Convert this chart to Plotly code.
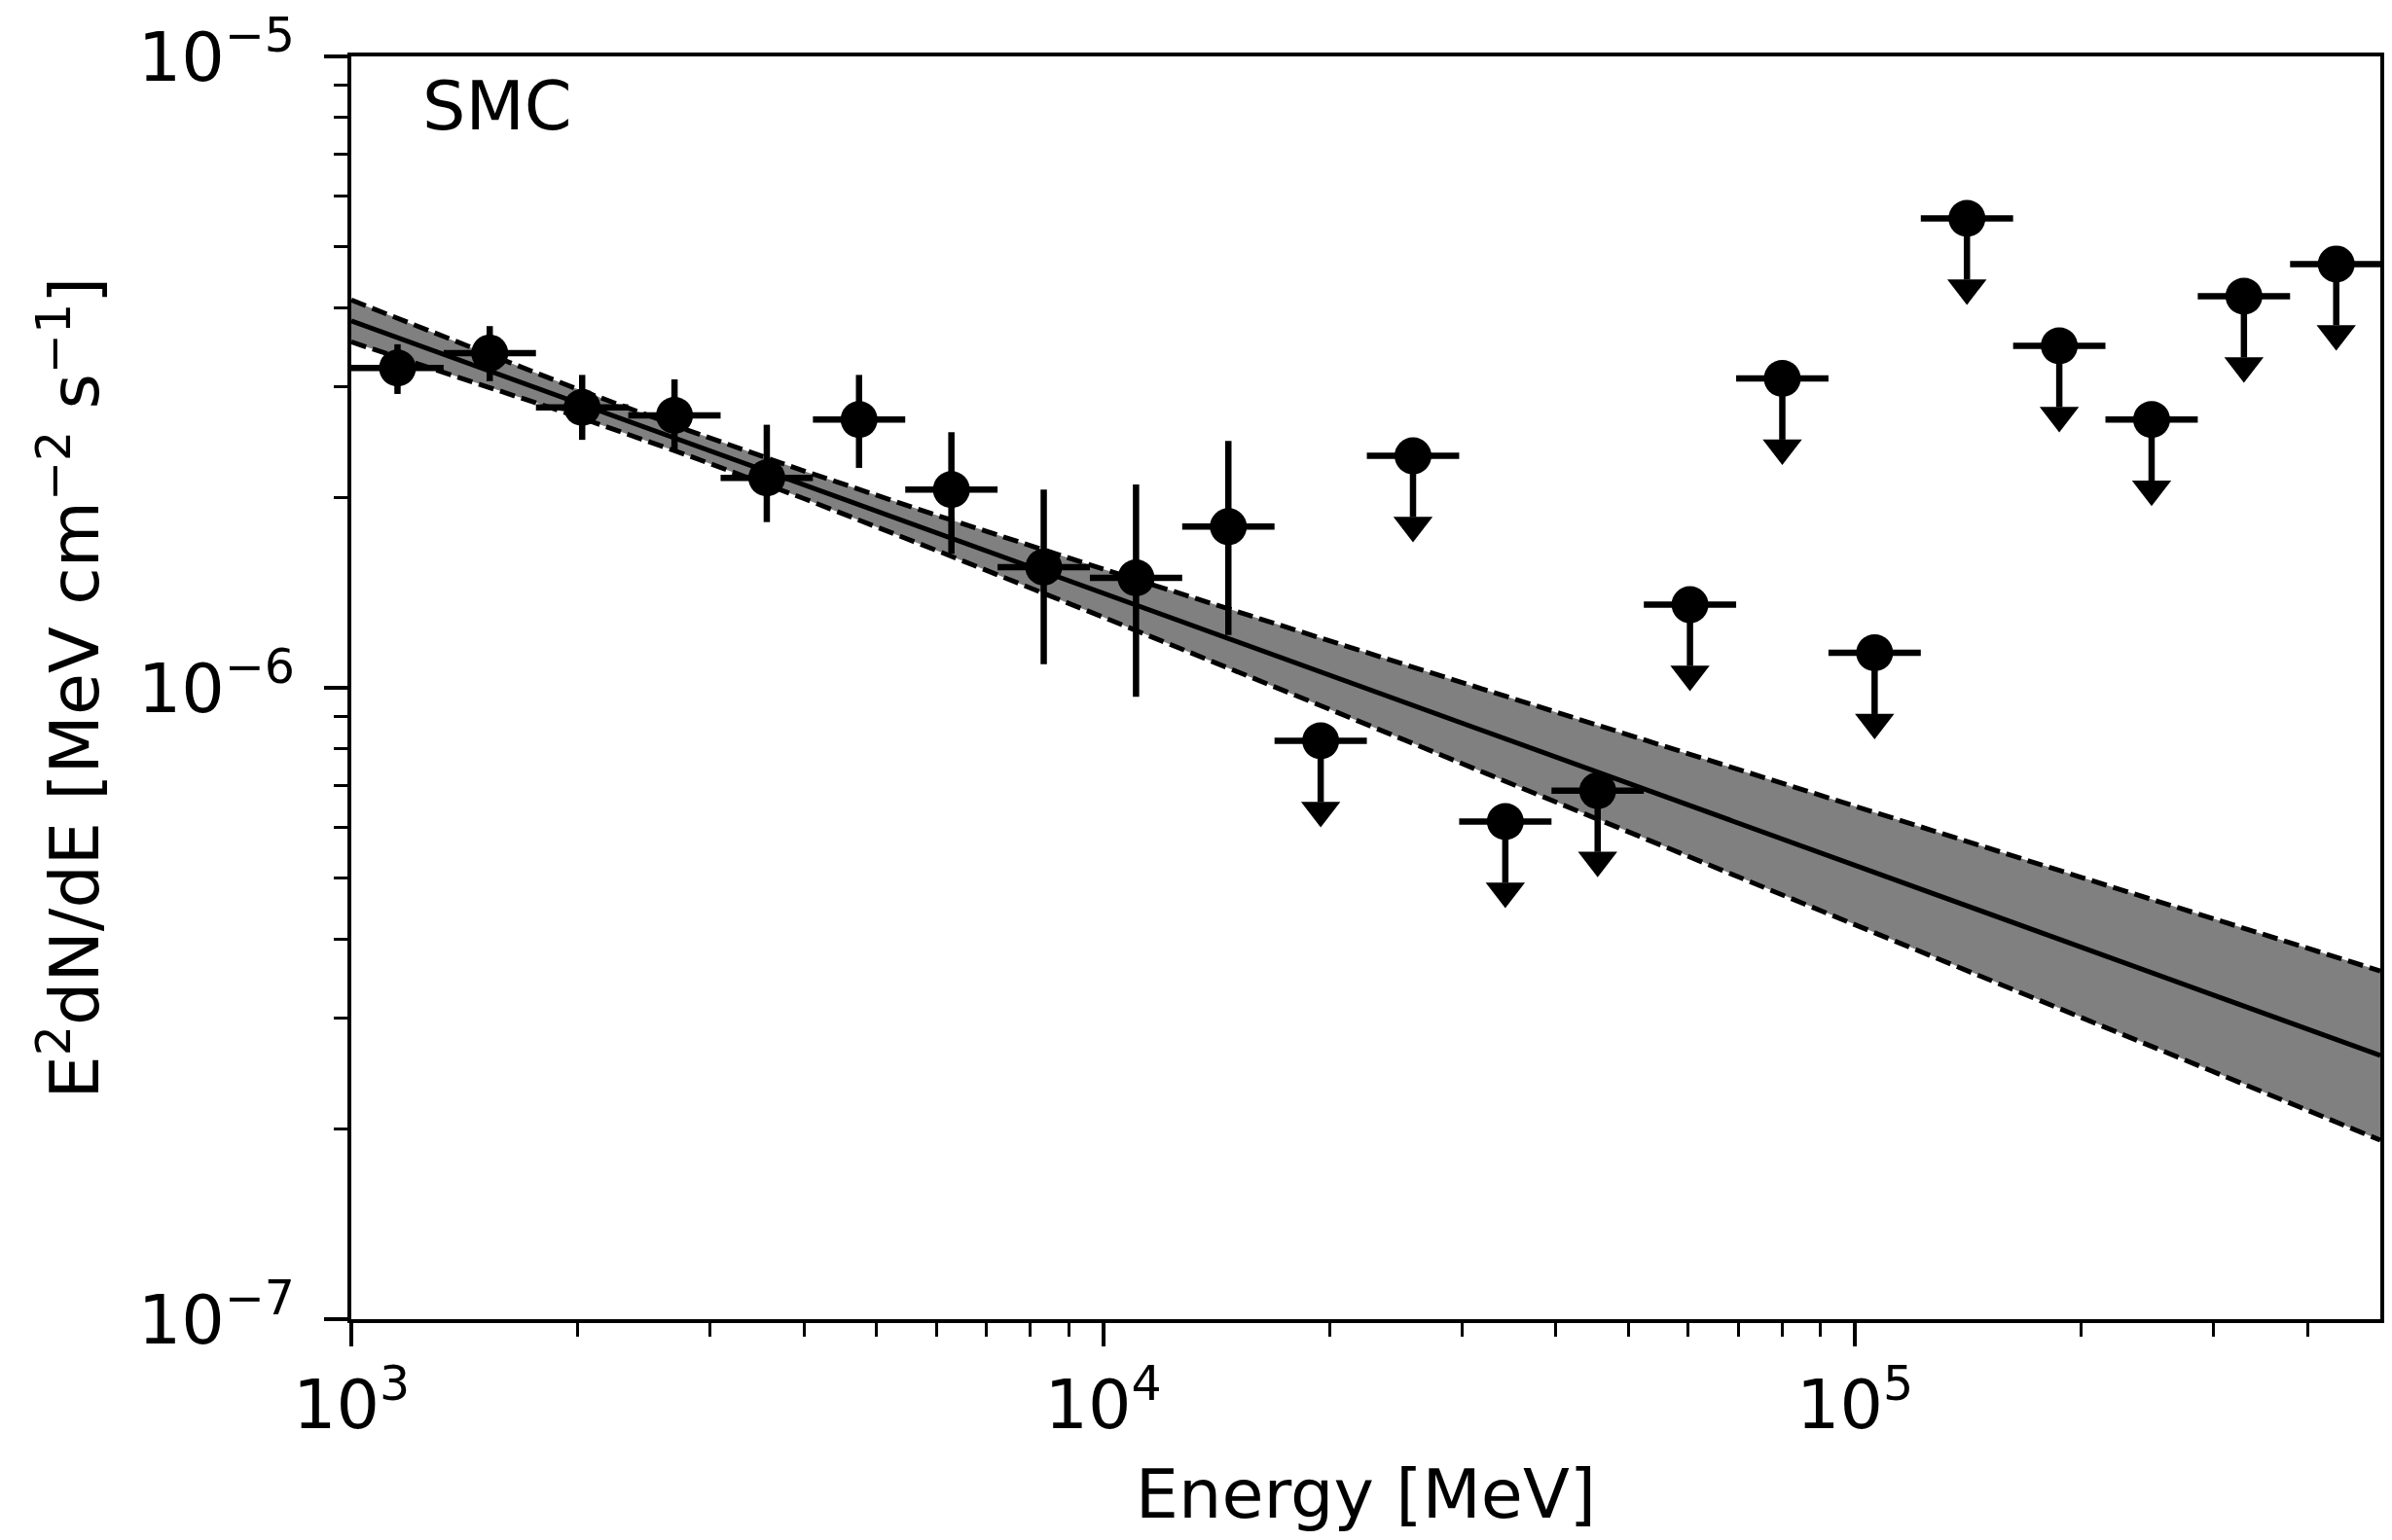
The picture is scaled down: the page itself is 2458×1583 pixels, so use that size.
import plotly.graph_objects as go

# ---- data ----
bin_edges = [1000, 1326.8, 1760.4, 2335.7, 3099.0, 4111.8, 5455.5, 7238.4, 9603.9,
             12742, 16907, 22432, 29763, 39490, 52395, 69518, 92237, 122380,
             162380, 215440, 285850, 379270, 503220]
energy = [1152, 1528, 2028, 2691, 3570, 4736, 6284, 8338, 11062, 14677, 19474,
          25838, 34282, 45486, 60351, 80074, 106240, 140960, 187040, 248160,
          329260, 436860]

det_flux = [3.21e-6, 3.39e-6, 2.78e-6, 2.70e-6, 2.15e-6, 2.66e-6, 2.06e-6,
            1.553e-6, 1.493e-6, 1.80e-6]
det_hi = [3.50e-6, 3.74e-6, 3.13e-6, 3.08e-6, 2.61e-6, 3.13e-6, 2.54e-6,
          2.06e-6, 2.10e-6, 2.46e-6]
det_lo = [2.92e-6, 3.06e-6, 2.47e-6, 2.36e-6, 1.83e-6, 2.23e-6, 1.63e-6,
          1.090e-6, 0.968e-6, 1.212e-6]
ul_flux = [8.24e-7, 2.33e-6, 6.14e-7, 6.87e-7, 1.354e-6, 3.09e-6, 1.136e-6,
           5.54e-6, 3.48e-6, 2.66e-6, 4.17e-6, 4.69e-6]

model_energy = [1000, 1500, 2000, 2800, 4000, 6000, 10000, 20000, 50000,
                100000, 200000, 500000]
model_flux = [3.811e-6, 3.199e-6, 2.826e-6, 2.445e-6, 2.097e-6, 1.760e-6,
              1.413e-6, 1.048e-6, 7.06e-7, 5.24e-7, 3.88e-7, 2.616e-7]
model_upper = [4.113e-6, 3.395e-6, 2.971e-6, 2.560e-6, 2.205e-6, 1.877e-6,
               1.542e-6, 1.187e-6, 8.41e-7, 6.49e-7, 5.01e-7, 3.56e-7]
model_lower = [3.530e-6, 3.014e-6, 2.688e-6, 2.335e-6, 1.994e-6, 1.651e-6,
               1.294e-6, 9.25e-7, 5.92e-7, 4.22e-7, 3.01e-7, 1.921e-7]

x_tickvals = [1e3, 1e4, 1e5]
x_ticktext = ["10<sup>3</sup>", "10<sup>4</sup>", "10<sup>5</sup>"]
y_tickvals = [1e-7, 1e-6, 1e-5]
y_ticktext = ["10<sup>\u22127</sup>", "10<sup>\u22126</sup>", "10<sup>\u22125</sup>"]

ul_frac = 0.2  # length of upper-limit arrows as a fraction of the value

# ---- derived ----
n_det = len(det_flux)
ex_minus = [energy[i] - bin_edges[i] for i in range(len(energy))]
ex_plus = [bin_edges[i + 1] - energy[i] for i in range(len(energy))]

fig = go.Figure()

# model band
fig.add_trace(go.Scatter(
    x=model_energy + model_energy[::-1],
    y=model_upper + model_lower[::-1],
    fill="toself", fillcolor="#808080", mode="none", hoverinfo="skip",
    showlegend=False))
for yy in (model_upper, model_lower):
    fig.add_trace(go.Scatter(x=model_energy, y=yy, mode="lines",
                             line=dict(color="black", width=5, dash="16px,7px"),
                             showlegend=False))
fig.add_trace(go.Scatter(x=model_energy, y=model_flux, mode="lines",
                         line=dict(color="black", width=5), showlegend=False))

# detections
fig.add_trace(go.Scatter(
    x=energy[:n_det], y=det_flux, mode="markers",
    marker=dict(size=38, color="black"),
    error_x=dict(type="data", symmetric=False, array=ex_plus[:n_det],
                 arrayminus=ex_minus[:n_det], color="black", thickness=6.5, width=0),
    error_y=dict(type="data", symmetric=False,
                 array=[h - f for h, f in zip(det_hi, det_flux)],
                 arrayminus=[f - l for f, l in zip(det_flux, det_lo)],
                 color="black", thickness=6.5, width=0),
    showlegend=False))

# upper limits
ul_energy = energy[n_det:]
fig.add_trace(go.Scatter(
    x=ul_energy, y=ul_flux, mode="markers",
    marker=dict(size=38, color="black"),
    error_x=dict(type="data", symmetric=False, array=ex_plus[n_det:],
                 arrayminus=ex_minus[n_det:], color="black", thickness=6.5, width=0),
    error_y=dict(type="data", symmetric=False, array=[0] * len(ul_flux),
                 arrayminus=[ul_frac * f for f in ul_flux],
                 color="black", thickness=6.5, width=0),
    showlegend=False))
fig.add_trace(go.Scatter(
    x=ul_energy, y=[f * (1 - ul_frac) * 0.97 for f in ul_flux], mode="markers",
    marker=dict(symbol="triangle-down", size=35, color="black", line=dict(width=0)),
    showlegend=False))

minor_x = [m * 10 ** d for d in (3, 4, 5) for m in range(2, 10) if m * 10 ** d < 5e5]
minor_y = [m * 10.0 ** d for d in (-7, -6) for m in range(2, 10)]

axis_common = dict(
    type="log", showgrid=False, zeroline=False, showline=True, linecolor="black",
    linewidth=4, mirror=True, ticks="outside", ticklen=24, tickwidth=4,
    tickcolor="black", tickfont=dict(size=70, color="black"),
)

fig.update_layout(
    width=2458, height=1583,
    margin=dict(l=361, r=8, t=52, b=227),
    paper_bgcolor="white", plot_bgcolor="white",
    font=dict(family="DejaVu Sans", size=70, color="black"),
    xaxis=dict(**axis_common, range=[3, 5.69897], tickmode="array",
               tickvals=x_tickvals, ticktext=x_ticktext,
               minor=dict(tickmode="array", tickvals=minor_x, ticks="outside",
                          ticklen=14, tickwidth=3, tickcolor="black", showgrid=False),
               title=dict(text="Energy [MeV]", font=dict(size=70), standoff=28)),
    yaxis=dict(**axis_common, range=[-7, -5], tickmode="array",
               tickvals=y_tickvals, ticktext=y_ticktext, ticklabelstandoff=16,
               minor=dict(tickmode="array", tickvals=minor_y, ticks="outside",
                          ticklen=14, tickwidth=3, tickcolor="black", showgrid=False),
               title=dict(text="E<sup>2</sup>dN/dE [MeV cm<sup>\u22122</sup> s<sup>\u22121</sup>]",
                          font=dict(size=70), standoff=18)),
    annotations=[dict(text="SMC", xref="paper", yref="paper", x=0.034, y=0.961,
                      xanchor="left", yanchor="middle", showarrow=False,
                      font=dict(size=70, color="black"))],
)

fig.write_html("out.html")
